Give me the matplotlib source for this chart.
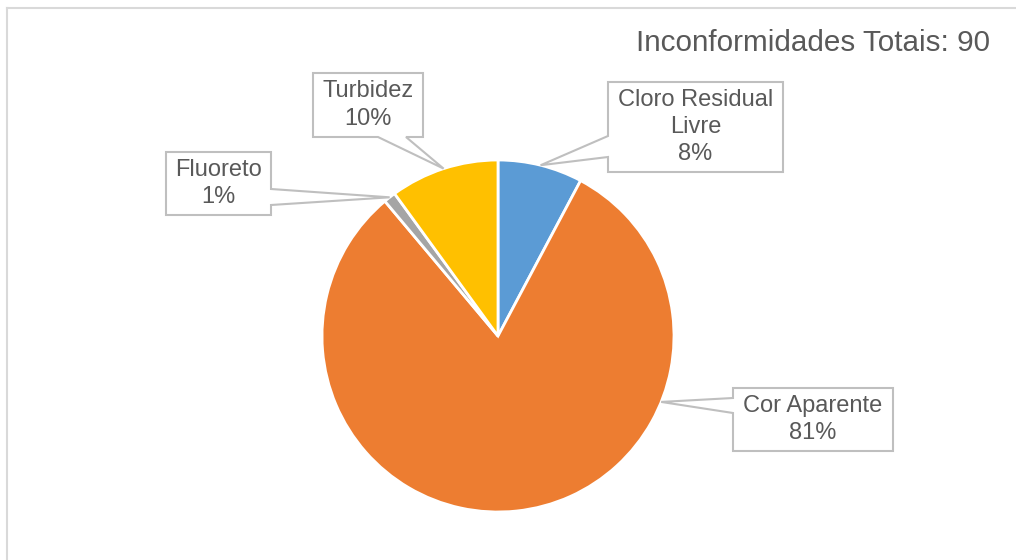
import matplotlib.pyplot as plt
from matplotlib.patches import Polygon
import numpy as np

plt.rcParams["font.family"] = ["Liberation Sans", "DejaVu Sans"]

categories = ["Cloro Residual\nLivre", "Cor Aparente", "Fluoreto", "Turbidez"]
counts = [7, 73, 1, 9]
pcts = ["8%", "81%", "1%", "10%"]
colors = ["#5B9BD5", "#ED7D31", "#A5A5A5", "#FFC000"]
total = sum(counts)

W, H = 1016, 560
fig = plt.figure(figsize=(W / 100, H / 100), dpi=100)
ax = fig.add_axes([0, 0, 1, 1])
ax.set_xlim(0, W)
ax.set_ylim(0, H)
ax.set_aspect("equal")
ax.axis("off")

# pie centre / radius in pixel units (y up)
cx, cy, r = 498, H - 336, 176
wedges, _ = ax.pie(counts, colors=colors, startangle=90, counterclock=False,
                   center=(cx, cy), radius=r,
                   wedgeprops=dict(edgecolor="white", linewidth=2))
ax.set_xlim(0, W)
ax.set_ylim(0, H)

# callout boxes: (x0, top, x1, bottom) in pixels from top-left, side of pointer, base offsets
boxes = [
    ((608, 82, 783, 172), "left", (136, 157)),
    ((733, 388, 893, 451), "left", (398, 413)),
    ((166, 152, 271, 215), "right", (189, 205)),
    ((313, 73, 423, 137), "bottom", (378, 406)),
]
tip_angle = {1: -22}  # Excel moves the Cor Aparente pointer off the slice middle

edge = "#BFBFBF"
for i, (w, (box, side, base)) in enumerate(zip(wedges, boxes)):
    ang = tip_angle.get(i, (w.theta1 + w.theta2) / 2)
    tx = cx + r * np.cos(np.radians(ang))
    ty = cy + r * np.sin(np.radians(ang))
    x0, t, x1, b = box
    y0, y1 = H - b, H - t
    if side == "left":
        pts = [(x0, y1), (x1, y1), (x1, y0), (x0, y0),
               (x0, H - base[1]), (tx, ty), (x0, H - base[0])]
    elif side == "right":
        pts = [(x0, y1), (x1, y1), (x1, H - base[0]), (tx, ty),
               (x1, H - base[1]), (x1, y0), (x0, y0)]
    else:
        pts = [(x0, y1), (x1, y1), (x1, y0), (base[1], y0), (tx, ty),
               (base[0], y0), (x0, y0)]
    ax.add_patch(Polygon(pts, closed=True, facecolor="white", edgecolor=edge,
                         linewidth=1.5, zorder=5))
    ax.text((x0 + x1) / 2, (y0 + y1) / 2, categories[i] + "\n" + pcts[i],
            ha="center", va="center", fontsize=17, color="#595959",
            linespacing=1.3, zorder=6)

ax.text(990, H - 43, "Inconformidades Totais: %d" % total, ha="right", va="center",
        fontsize=21.3, color="#595959")

# chart area border (left and top visible)
ax.plot([7, 7], [0, H - 8], color="#D9D9D9", lw=1.5, zorder=1)
ax.plot([7, W], [H - 8, H - 8], color="#D9D9D9", lw=1.5, zorder=1)

fig.savefig("out.png", dpi=100)
